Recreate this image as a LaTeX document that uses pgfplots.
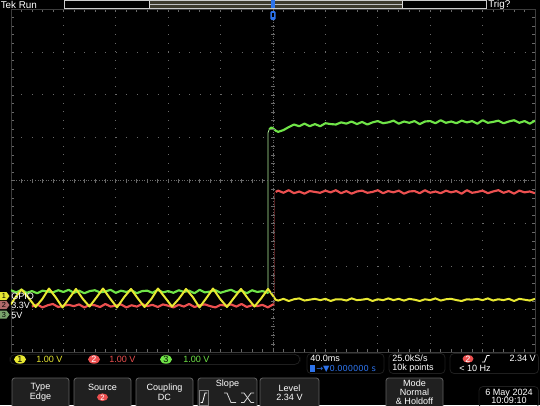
\documentclass[border=0pt]{standalone}
\usepackage{pgfplots}
\pgfplotsset{compat=1.18}
\usepackage{fontspec}
\setmainfont{Liberation Sans}
\newfontfamily\sym{DejaVu Sans}
\definecolor{chy}{RGB}{232,232,50}
\definecolor{chr}{RGB}{236,80,80}
\definecolor{chg}{RGB}{112,228,72}
\definecolor{gridc}{RGB}{105,105,105}
\definecolor{tblue}{RGB}{45,115,235}
\definecolor{btn}{RGB}{32,32,32}
\definecolor{btnb}{RGB}{95,95,95}
\newcommand\ft{\fontsize{6.8}{7.2}\selectfont}
\begin{document}
\begin{tikzpicture}
\useasboundingbox (0,0) rectangle (405pt,303.75pt);
\fill[black] (0,0) rectangle (405pt,303.75pt);
\begin{axis}[
  at={(8.25pt,39.375pt)}, anchor=south west,
  scale only axis, width=393pt, height=257.625pt,
  xmin=-5, xmax=5, ymin=-4, ymax=4,
  axis line style={draw=gridc!130, line width=0.6pt},
  xtick={-5,...,5}, ytick={-4,...,4},
  xticklabels={}, yticklabels={},
  minor x tick num=4, minor y tick num=4,
  major tick length=2.6pt, minor tick length=2.6pt,
  tick style={gridc, line width=0.5pt},
  grid=major,
  major x grid style={gridc, line width=0.6pt, dash pattern=on 0.6pt off 5.84pt},
  major y grid style={gridc, line width=0.6pt, dash pattern=on 0.6pt off 7.26pt},
  clip=true,
]
% red (ch2)
\addplot[chr, line width=1.6pt, line join=round] coordinates {
(-4.6,-2.93) (-4.5,-2.88) (-4.4,-2.95) (-4.3,-2.90) (-4.2,-2.87) (-4.1,-2.94) (-4.0,-2.91) (-3.9,-2.89) (-3.8,-2.92) (-3.7,-2.88)
(-3.6,-2.95) (-3.5,-2.89) (-3.4,-2.90) (-3.3,-2.94) (-3.2,-2.87) (-3.1,-2.93) (-3.0,-2.91) (-2.9,-2.88) (-2.8,-2.95) (-2.7,-2.90)
(-2.6,-2.93) (-2.5,-2.87) (-2.4,-2.92) (-2.3,-2.89) (-2.2,-2.94) (-2.1,-2.88) (-2.0,-2.91) (-1.9,-2.95) (-1.8,-2.89) (-1.7,-2.93)
(-1.6,-2.87) (-1.5,-2.94) (-1.4,-2.90) (-1.3,-2.88) (-1.2,-2.92) (-1.1,-2.95) (-1.0,-2.89) (-0.9,-2.91) (-0.8,-2.88) (-0.7,-2.93)
(-0.6,-2.87) (-0.5,-2.94) (-0.4,-2.90) (-0.3,-2.92) (-0.2,-2.89) (-0.1,-2.95) (0.0,-2.88) (0.03,-2.90)};
\addplot[chr!35!black, line width=0.4pt] coordinates {(0.03,-2.90) (0.03,-0.26)};
\addplot[chr, line width=1.6pt, line join=round] coordinates {
(0.05,-0.26) (0.1,-0.23) (0.2,-0.28) (0.3,-0.22) (0.4,-0.29) (0.5,-0.25) (0.6,-0.30) (0.7,-0.24) (0.8,-0.26) (0.9,-0.28) (1.0,-0.23)
(1.1,-0.27) (1.2,-0.22) (1.3,-0.29) (1.4,-0.24) (1.5,-0.30) (1.6,-0.25) (1.7,-0.23) (1.8,-0.28) (1.9,-0.26) (2.0,-0.22)
(2.1,-0.29) (2.2,-0.24) (2.3,-0.27) (2.4,-0.23) (2.5,-0.30) (2.6,-0.25) (2.7,-0.24) (2.8,-0.29) (2.9,-0.22) (3.0,-0.28)
(3.1,-0.25) (3.2,-0.29) (3.3,-0.23) (3.4,-0.27) (3.5,-0.24) (3.6,-0.30) (3.7,-0.22) (3.8,-0.28) (3.9,-0.26) (4.0,-0.23)
(4.1,-0.29) (4.2,-0.25) (4.3,-0.22) (4.4,-0.28) (4.5,-0.24) (4.6,-0.30) (4.7,-0.23) (4.8,-0.27) (4.9,-0.25) (5.0,-0.29)};
% green (ch3)
\addplot[chg, line width=1.6pt, line join=round] coordinates {
(-5.0,-2.55) (-4.9,-2.60) (-4.8,-2.54) (-4.7,-2.61) (-4.6,-2.57) (-4.5,-2.62) (-4.4,-2.56) (-4.3,-2.58) (-4.2,-2.60) (-4.1,-2.55)
(-4.0,-2.59) (-3.9,-2.54) (-3.8,-2.61) (-3.7,-2.56) (-3.6,-2.62) (-3.5,-2.57) (-3.4,-2.55) (-3.3,-2.60) (-3.2,-2.58) (-3.1,-2.54)
(-3.0,-2.61) (-2.9,-2.56) (-2.8,-2.59) (-2.7,-2.55) (-2.6,-2.62) (-2.5,-2.57) (-2.4,-2.56) (-2.3,-2.61) (-2.2,-2.54) (-2.1,-2.60)
(-2.0,-2.57) (-1.9,-2.61) (-1.8,-2.55) (-1.7,-2.59) (-1.6,-2.56) (-1.5,-2.62) (-1.4,-2.54) (-1.3,-2.60) (-1.2,-2.58) (-1.1,-2.55)
(-1.0,-2.61) (-0.9,-2.57) (-0.8,-2.54) (-0.7,-2.60) (-0.6,-2.56) (-0.5,-2.62) (-0.4,-2.55) (-0.3,-2.59) (-0.2,-2.57) (-0.1,-2.61) (-0.095,-2.58)};
\addplot[chg!55!white, line width=0.6pt] coordinates {(-0.095,-2.58) (-0.095,1.12) (-0.07,1.20)};
\addplot[chg, line width=1.6pt, line join=round] coordinates {
(-0.07,1.20) (-0.03,1.24) (0.0,1.22) (0.06,1.16) (0.1,1.14) (0.2,1.18) (0.3,1.25)
(0.4,1.31) (0.5,1.27) (0.6,1.33) (0.7,1.27) (0.8,1.32) (0.9,1.27) (1.0,1.34) (1.1,1.32) (1.2,1.31) (1.3,1.36)
(1.4,1.33) (1.5,1.38) (1.6,1.32) (1.7,1.37) (1.8,1.31) (1.9,1.36) (2.0,1.39) (2.1,1.34) (2.2,1.36) (2.3,1.40)
(2.4,1.33) (2.5,1.38) (2.6,1.35) (2.7,1.39) (2.8,1.32) (2.9,1.38) (3.0,1.39) (3.1,1.34) (3.2,1.41) (3.3,1.35)
(3.4,1.38) (3.5,1.34) (3.6,1.40) (3.7,1.36) (3.8,1.39) (3.9,1.33) (4.0,1.41) (4.1,1.35) (4.2,1.37) (4.3,1.40)
(4.4,1.34) (4.5,1.38) (4.6,1.41) (4.7,1.35) (4.8,1.39) (4.9,1.33) (5.0,1.40)};
% yellow (ch1)
\addplot[chy, line width=1.5pt, line join=round] coordinates {
(-5.0,-2.88) (-4.93,-2.74) (-4.80,-2.53) (-4.67,-2.72) (-4.53,-2.94) (-4.40,-2.75) (-4.275,-2.51) (-4.15,-2.71)
(-4.017,-2.95) (-3.89,-2.74) (-3.76,-2.52) (-3.63,-2.75) (-3.502,-2.93) (-3.37,-2.72) (-3.244,-2.51) (-3.11,-2.74)
(-2.977,-2.95) (-2.84,-2.71) (-2.71,-2.52) (-2.58,-2.74) (-2.452,-2.94) (-2.32,-2.75) (-2.195,-2.51) (-2.06,-2.72)
(-1.927,-2.93) (-1.79,-2.74) (-1.66,-2.52) (-1.53,-2.71) (-1.403,-2.95) (-1.27,-2.73) (-1.145,-2.51) (-1.01,-2.75)
(-0.878,-2.94) (-0.74,-2.72) (-0.611,-2.52) (-0.48,-2.74) (-0.353,-2.93) (-0.22,-2.73) (-0.095,-2.52) (0.0,-2.68) (0.05,-2.77)
(0.1,-2.79) (0.2,-2.75) (0.3,-2.80) (0.4,-2.76) (0.5,-2.74) (0.6,-2.79) (0.7,-2.77) (0.8,-2.75) (0.9,-2.78) (1.0,-2.75)
(1.1,-2.80) (1.2,-2.76) (1.3,-2.76) (1.4,-2.79) (1.5,-2.74) (1.6,-2.78) (1.7,-2.77) (1.8,-2.75) (1.9,-2.80) (2.0,-2.76)
(2.1,-2.78) (2.2,-2.74) (2.3,-2.78) (2.4,-2.75) (2.5,-2.79) (2.6,-2.75) (2.7,-2.77) (2.8,-2.80) (2.9,-2.76) (3.0,-2.78)
(3.1,-2.74) (3.2,-2.79) (3.3,-2.76) (3.4,-2.75) (3.5,-2.78) (3.6,-2.80) (3.7,-2.76) (3.8,-2.77) (3.9,-2.75) (4.0,-2.78)
(4.1,-2.74) (4.2,-2.79) (4.3,-2.76) (4.4,-2.78) (4.5,-2.75) (4.6,-2.80) (4.7,-2.75) (4.8,-2.77) (4.9,-2.79) (5.0,-2.75)};
\end{axis}
\begin{scope}[x=0.75pt, y=-0.75pt, yshift=303.75pt, every node/.style={inner sep=0pt, font=\ft, text=white}]
% center cross
\draw[gridc, line width=0.5pt, dash pattern=on 0.6pt off 1.4pt] (11,180.75) -- (535,180.75);
\draw[gridc, line width=0.5pt, dash pattern=on 0.6pt off 1.4pt] (273,9) -- (273,352.5);
\foreach \k in {1,...,49} \draw[gridc, line width=0.5pt] (11+\k*10.48,178.6) -- (11+\k*10.48,182.9);
\foreach \k in {1,...,39} \draw[gridc, line width=0.5pt] (270.8,9+\k*8.5875) -- (275.2,9+\k*8.5875);
% top bar
\node[anchor=west, font=\fontsize{7.4}{8}\selectfont] at (0.5,4.6) {Tek Run};
\draw[white!80!black, line width=0.6pt] (64,0.8) rectangle (486,8.2);
\fill[black!75!olive] (149,1.4) rectangle (402,7.6);
\draw[white!75!black, line width=0.5pt] (149,4.5) -- (402,4.5);
\draw[white!85!black, line width=0.6pt] (149,0.8) -- (149,8.2) (402,0.8) -- (402,8.2);
\fill[tblue] (271.3,0) rectangle (274.7,8);
\fill[tblue, rounded corners=1pt] (270.3,11) rectangle (275.7,20);
\fill[black] (272.2,12.5) rectangle (273.8,17);
\node[anchor=west, font=\fontsize{7.4}{8}\selectfont] at (488,4.6) {Trig?};
% ground markers
\fill[chy] (0,292) -- (6.5,292) -- (9.5,296) -- (6.5,300) -- (0,300) -- cycle;
\node[text=black, font=\fontsize{5.5}{6}\selectfont] at (4,296) {1};
\node[anchor=west] at (11,296.5) {GPIO};
\fill[chr!45!gray] (0,301) -- (6.5,301) -- (9.5,305) -- (6.5,309) -- (0,309) -- cycle;
\node[text=black, font=\fontsize{5.5}{6}\selectfont] at (4,305) {2};
\node[anchor=west] at (11,305.5) {3.3V};
\fill[chg!35!gray] (0,310.5) -- (6.5,310.5) -- (9.5,314.5) -- (6.5,318.5) -- (0,318.5) -- cycle;
\node[text=black, font=\fontsize{5.5}{6}\selectfont] at (4,314.5) {3};
\node[anchor=west] at (11,315) {5V};
% channel strip
\draw[btnb!140, line width=0.6pt, rounded corners=4pt] (10,354.3) rectangle (300,364.5);
\fill[chy] (20,359.4) ellipse [x radius=6, y radius=4.3];
\node[text=black] at (20,359.6) {1};
\node[anchor=west, text=chy] at (36,359.6) {1.00 V};
\fill[chr] (94,359.4) ellipse [x radius=6, y radius=4.3];
\node[text=white] at (94,359.6) {2};
\node[anchor=west, text=chr] at (109,359.6) {1.00 V};
\fill[chg] (166,359.4) ellipse [x radius=6, y radius=4.3];
\node[text=black] at (166,359.6) {3};
\node[anchor=west, text=chg] at (183,359.6) {1.00 V};
% timebase
\draw[btnb!140, line width=0.6pt, rounded corners=3pt] (307,353.5) rectangle (384,373.5);
\node[anchor=west] at (310,358.6) {40.0ms};
\fill[tblue] (309.5,365) rectangle (315,371.5);
\node[anchor=west, text=tblue, font=\fontsize{6.2}{7}\sym] at (316,368.5) {→▼0.000000 s};
\draw[btnb!140, line width=0.6pt, rounded corners=3pt] (389,353.5) rectangle (445,373.5);
\node[anchor=west] at (392,358.6) {25.0kS/s};
\node[anchor=west] at (392,368.3) {10k points};
\draw[btnb!140, line width=0.6pt, rounded corners=3pt] (450,353.5) rectangle (538.5,373.5);
\fill[chr] (468,358.8) ellipse [x radius=5.5, y radius=4];
\node[text=white] at (468,359) {2};
\draw[white, line width=0.6pt] (482,362) -- (484.5,362) -- (487,355.5) -- (489.5,355.5);
\node[anchor=east] at (536,358.8) {2.34 V};
\node[anchor=west] at (459,368.3) {< 10 Hz};
% buttons
\foreach \a/\b in {12/69,74/131,136/193,198/257,260/319,386/443} {
  \draw[btnb, fill=btn, line width=0.6pt, rounded corners=2pt] (\a,378) rectangle (\b,408);
}
\node at (40.5,387.8) {Type};
\node at (40.5,397.2) {Edge};
\node at (102.5,387.8) {Source};
\fill[chr] (102.5,397.2) ellipse [x radius=5.5, y radius=3.8];
\node[text=white, font=\fontsize{5.8}{6}\selectfont] at (102.5,397.4) {2};
\node at (164.5,387.8) {Coupling};
\node at (164.5,397.2) {DC};
\node at (227.5,383.8) {Slope};
\draw[gray, fill=black!85, line width=0.6pt] (199,390.5) rectangle (208.5,405);
\draw[white, line width=0.6pt] (200.5,402.5) -- (202.5,402.5) -- (205,393) -- (207,393);
\draw[white!85!black, line width=0.6pt] (224,393) -- (227,393) -- (231,402.5) -- (236,402.5);
\draw[white!85!black, line width=0.6pt] (241,393) -- (244,393) -- (251,402.5) -- (254,402.5);
\draw[white!85!black, line width=0.6pt] (241,402.5) -- (244,402.5) -- (251,393) -- (254,393);
\node at (289.5,387.8) {Level};
\node at (289.5,397.2) {2.34 V};
\node at (414.5,383.3) {Mode};
\node at (414.5,392.2) {Normal};
\node at (414.5,400.8) {\& Holdoff};
\draw[btnb!140, line width=0.6pt, rounded corners=3pt] (479,386.5) rectangle (538.5,408);
\node at (509,392.8) {6 May 2024};
\node at (509,400.8) {10:09:10};
\end{scope}
\end{tikzpicture}
\end{document}
